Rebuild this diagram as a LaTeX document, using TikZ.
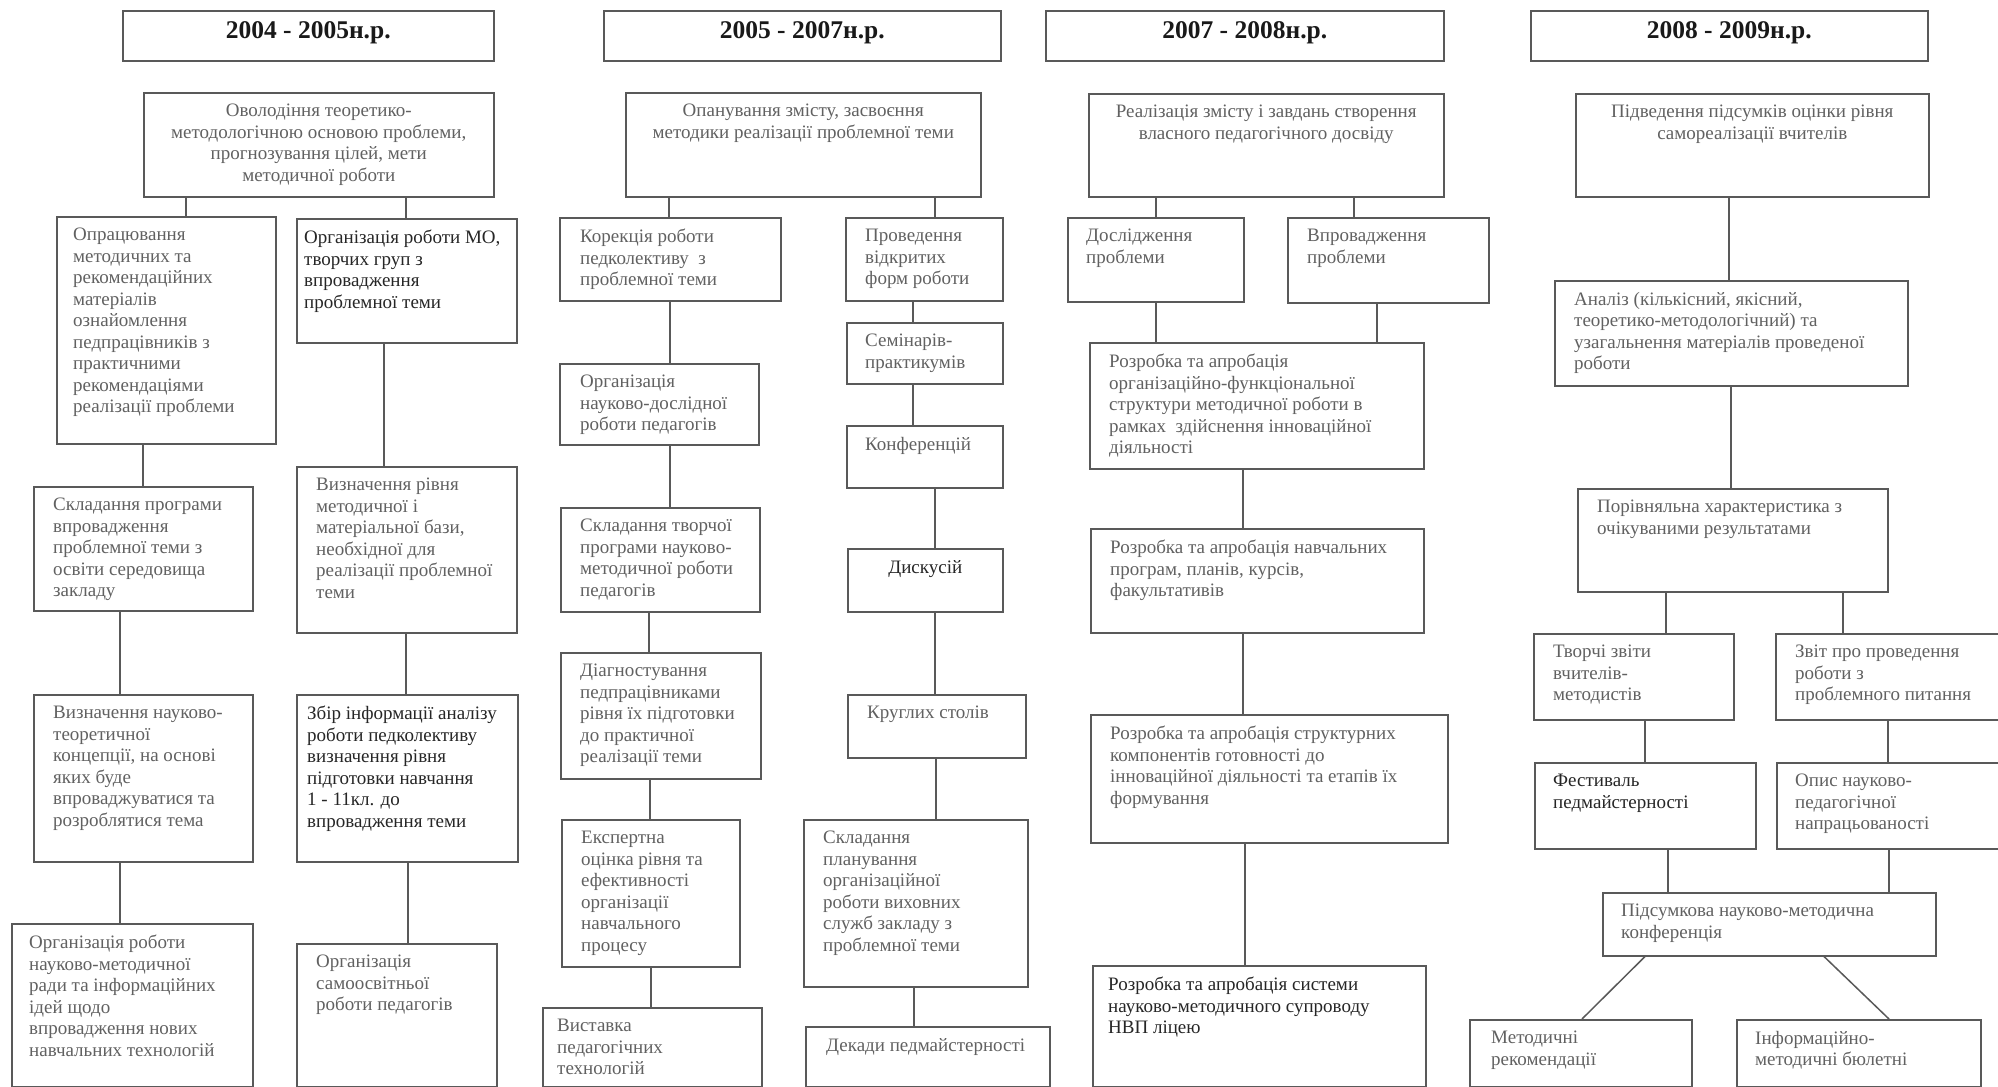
\documentclass[tikz,border=0pt]{standalone}
\usepackage{fontspec}
\setmainfont{Liberation Serif}
\begin{document}
\begin{tikzpicture}[x=1pt,y=-1pt,
  box/.style={draw=black!65, line width=1.5pt, fill=white, rectangle, inner sep=0pt},
  conn/.style={draw=black!65, line width=1.5pt},
  txt/.style={inner sep=0pt, align=left, text=black!62, font=\fontsize{19}{21.5}\selectfont},
  dtxt/.style={txt, text=black!85},
  ctxt/.style={txt, align=center},
  head/.style={inner sep=0pt, text=black!90, font=\fontsize{25.5}{28}\selectfont\bfseries}]
\useasboundingbox (0,0) rectangle (1998,1087);
\clip (0,0) rectangle (1998,1087);
\fill[white] (0,0) rectangle (1998,1087);
\newcommand\bx[8]{%
  \pgfmathsetmacro\bxw{#4-#2}%
  \pgfmathsetmacro\bxh{#5-#3}%
  \node[box, minimum width=\bxw pt, minimum height=\bxh pt, anchor=north west] (#1) at (#2,#3) {};
  \node[#7, anchor=north west] (#1-t) at ([xshift=#6pt, yshift=-12pt]#1.north west) {#8};
}
\newcommand\cbx[6]{%
  \pgfmathsetmacro\bxw{#4-#2}%
  \pgfmathsetmacro\bxh{#5-#3}%
  \node[box, minimum width=\bxw pt, minimum height=\bxh pt, anchor=north west] (#1) at (#2,#3) {};
  \node[ctxt, anchor=north] (#1-t) at ([yshift=-12pt]#1.north) {#6};
}
\newcommand\hbx[6]{%
  \pgfmathsetmacro\bxw{#4-#2}%
  \pgfmathsetmacro\bxh{#5-#3}%
  \node[box, minimum width=\bxw pt, minimum height=\bxh pt, anchor=north west] (#1) at (#2,#3) {};
  \node[head] (#1-t) at ([yshift=3pt]#1.center) {#6};
}
\newcommand\vl[3]{\coordinate (vx) at (#3,0); \draw[conn] (#1.south -| vx) -- (#2.north -| vx);}
\newcommand\dl[4]{\coordinate (va) at (#3,0); \coordinate (vb) at (#4,0); \draw[conn] (#1.south -| va) -- (#2.north -| vb);}

% headers
\hbx{h1}{122}{10}{493}{60}{2004 - 2005н.р.}
\hbx{h2}{603}{10}{1000}{60}{2005 - 2007н.р.}
\hbx{h3}{1045}{10}{1443}{60}{2007 - 2008н.р.}
\hbx{h4}{1530}{10}{1927}{60}{2008 - 2009н.р.}

% column 1
\cbx{t1}{143}{92}{493}{196}{Оволодіння теоретико-\\методологічною основою проблеми,\\прогнозування цілей, мети\\методичної роботи}
\bx{a1}{56}{216}{275}{443}{17}{txt}{Опрацювання\\методичних та\\рекомендаційних\\матеріалів\\ознайомлення\\педпрацівників з\\практичними\\рекомендаціями\\реалізації проблеми}
\bx{b1}{296}{218}{516}{342}{8}{dtxt}{Організація роботи МО,\\творчих груп з\\впровадження\\проблемної теми}
\bx{a2}{33}{486}{252}{610}{20}{txt}{Складання програми\\впровадження\\проблемної теми з\\освіти середовища\\закладу}
\bx{b2}{296}{466}{516}{632}{20}{txt}{Визначення рівня\\методичної і\\матеріальної бази,\\необхідної для\\реалізації проблемної\\теми}
\bx{a3}{33}{694}{252}{861}{20}{txt}{Визначення науково-\\теоретичної\\концепції, на основі\\яких буде\\впроваджуватися та\\розроблятися тема}
\bx{b3}{296}{694}{517}{861}{11}{dtxt}{Збір інформації аналізу\\роботи педколективу\\визначення рівня\\підготовки навчання\\1 - 11кл. до\\впровадження теми}
\bx{a4}{11}{923}{252}{1086}{18}{txt}{Організація роботи\\науково-методичної\\ради та інформаційних\\ідей щодо\\впровадження нових\\навчальних технологій}
\bx{b4}{296}{943}{496}{1086}{20}{txt}{Організація\\самоосвітньої\\роботи педагогів}

\vl{t1}{a1}{186} \vl{t1}{b1}{406}
\vl{a1}{a2}{143} \vl{b1}{b2}{384}
\vl{a2}{a3}{120} \vl{a3}{a4}{120}
\vl{b2}{b3}{406} \vl{b3}{b4}{408}

% column 2
\cbx{t2}{625}{92}{980}{196}{Опанування змісту, засвоєння\\методики реалізації проблемної теми}
\bx{c1}{559}{217}{780}{300}{21}{txt}{Корекція роботи\\педколективу\ \ з\\проблемної теми}
\bx{d1}{845}{217}{1002}{300}{20}{txt}{Проведення\\відкритих\\форм роботи}
\bx{c2}{559}{363}{758}{444}{21}{txt}{Організація\\науково-дослідної\\роботи педагогів}
\bx{d2}{846}{322}{1002}{383}{19}{txt}{Семінарів-\\практикумів}
\bx{d3}{846}{425}{1002}{487}{19}{txt}{Конференцій}
\bx{c3}{560}{507}{759}{611}{20}{txt}{Складання творчої\\програми науково-\\методичної роботи\\педагогів}
\cbx{d4}{847}{548}{1002}{611}{\textcolor{black!85}{Дискусій}}
\bx{c4}{560}{652}{760}{778}{20}{txt}{Діагностування\\педпрацівниками\\рівня їх підготовки\\до практичної\\реалізації теми}
\bx{d5}{847}{694}{1025}{757}{20}{txt}{Круглих столів}
\bx{c5}{561}{819}{739}{966}{20}{txt}{Експертна\\оцінка рівня та\\ефективності\\організації\\навчального\\процесу}
\bx{d6}{803}{819}{1027}{986}{20}{txt}{Складання\\планування\\організаційної\\роботи виховних\\служб закладу з\\проблемної теми}
\bx{c6}{542}{1007}{761}{1086}{15}{txt}{Виставка\\педагогічних\\технологій}
\bx{d7}{805}{1026}{1049}{1086}{21}{txt}{Декади педмайстерності}

\vl{t2}{c1}{669} \vl{t2}{d1}{935}
\vl{c1}{c2}{670} \vl{c2}{c3}{670} \vl{c3}{c4}{649} \vl{c4}{c5}{650} \vl{c5}{c6}{651}
\vl{d1}{d2}{913} \vl{d2}{d3}{913} \vl{d3}{d4}{935} \vl{d4}{d5}{935} \vl{d5}{d6}{936} \vl{d6}{d7}{914}

% column 3
\cbx{t3}{1088}{93}{1443}{196}{Реалізація змісту і завдань створення\\власного педагогічного досвіду}
\bx{e1}{1067}{217}{1243}{301}{19}{txt}{Дослідження\\проблеми}
\bx{f1}{1287}{217}{1488}{302}{20}{txt}{Впровадження\\проблеми}
\bx{g1}{1089}{342}{1423}{468}{20}{txt}{Розробка та апробація\\організаційно-функціональної\\структури методичної роботи в\\рамках\ \ здійснення інноваційної\\діяльності}
\bx{g2}{1090}{528}{1423}{632}{20}{txt}{Розробка та апробація навчальних\\програм, планів, курсів,\\факультативів}
\bx{g3}{1090}{714}{1447}{842}{20}{txt}{Розробка та апробація структурних\\компонентів готовності до\\інноваційної діяльності та етапів їх\\формування}
\bx{g4}{1092}{965}{1425}{1086}{16}{dtxt}{Розробка та апробація системи\\науково-методичного супроводу\\НВП ліцею}

\vl{t3}{e1}{1156} \vl{t3}{f1}{1354}
\vl{e1}{g1}{1156} \vl{f1}{g1}{1377}
\vl{g1}{g2}{1243} \vl{g2}{g3}{1243} \vl{g3}{g4}{1245}

% column 4
\cbx{t4}{1575}{93}{1928}{196}{Підведення підсумків оцінки рівня\\самореалізації вчителів}
\bx{k1}{1554}{280}{1907}{385}{20}{txt}{Аналіз (кількісний, якісний,\\теоретико-методологічний) та\\узагальнення матеріалів проведеної\\роботи}
\bx{k2}{1577}{488}{1887}{591}{20}{txt}{Порівняльна характеристика з\\очікуваними результатами}
\bx{l1}{1533}{633}{1733}{719}{20}{txt}{Творчі звіти\\вчителів-\\методистів}
\bx{m1}{1775}{633}{2010}{719}{20}{txt}{Звіт про проведення\\роботи з\\проблемного питання}
\bx{l2}{1534}{762}{1755}{848}{19}{dtxt}{Фестиваль\\педмайстерності}
\bx{m2}{1776}{762}{2010}{848}{19}{txt}{Опис науково-\\педагогічної\\напрацьованості}
\bx{n}{1602}{892}{1935}{955}{19}{txt}{Підсумкова науково-методична\\конференція}
\bx{p1}{1469}{1019}{1691}{1086}{22}{txt}{Методичні\\рекомендації}
\bx{p2}{1736}{1019}{1980}{1086}{19}{txt}{Інформаційно-\\методичні бюлетні}

\vl{t4}{k1}{1729} \vl{k1}{k2}{1731}
\vl{k2}{l1}{1666} \vl{k2}{m1}{1843}
\vl{l1}{l2}{1645} \vl{m1}{m2}{1888}
\vl{l2}{n}{1668} \vl{m2}{n}{1889}
\dl{n}{p1}{1645}{1582} \dl{n}{p2}{1824}{1889}
\end{tikzpicture}
\end{document}
